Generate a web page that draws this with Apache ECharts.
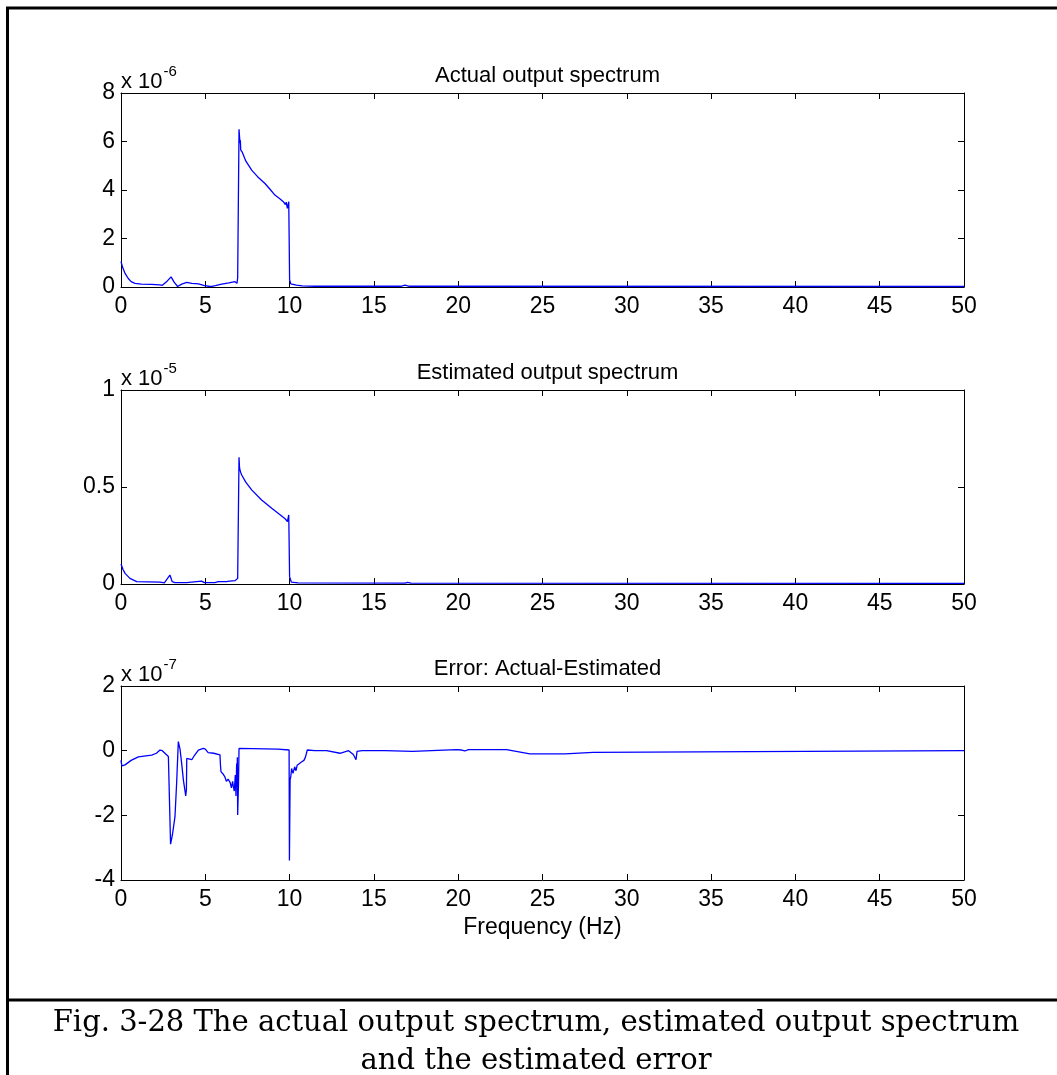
<!DOCTYPE html>
<html>
<head>
<meta charset="utf-8">
<script src="https://cdn.jsdelivr.net/npm/echarts@6/dist/echarts.min.js"></script>
<style>
  html, body { margin: 0; padding: 0; background: #fff; }
  #chart { width: 1057px; height: 1075px; }
</style>
</head>
<body>
<div id="chart"></div>
<script>
// Actual output spectrum, amplitude in units of 1e-6
const actualFreq = [0, 0.1, 0.25, 0.43, 0.6, 0.83, 1.2, 1.8, 2.3, 2.45, 2.75, 2.97, 3.15, 3.36, 3.6, 3.9, 4.2, 4.6, 4.95, 5.3, 5.6, 5.97, 6.4, 6.76, 6.85, 6.88, 6.92, 6.97,
  7.0, 7.03, 7.06, 7.08, 7.1, 7.2, 7.4, 7.75, 8.1, 8.54, 8.85, 9.13, 9.4, 9.63, 9.75, 9.8, 9.87, 9.92, 9.95, 9.98,
  10.0, 10.07, 10.4, 10.75, 11.5, 16.6, 16.85, 17.1, 50];
const actualAmp = [1.05, 0.8, 0.55, 0.35, 0.22, 0.15, 0.12, 0.11, 0.09, 0.07, 0.25, 0.42, 0.2, 0.02, 0.12, 0.19, 0.15, 0.13, 0.06, 0.02, 0.06, 0.12, 0.17, 0.22, 0.3, 0.15, 0.38, 0.3,
  6.5, 6.2, 5.93, 6.05, 5.65, 5.55, 5.2, 4.82, 4.55, 4.27, 4.02, 3.79, 3.65, 3.52, 3.4, 3.5, 3.24, 3.3, 3.52, 3.5,
  0.3, 0.13, 0.08, 0.05, 0.03, 0.03, 0.08, 0.03, 0.02];

// Estimated output spectrum, amplitude in units of 1e-5
const estFreq = [0, 0.12, 0.24, 0.53, 0.93, 2.31, 2.57, 2.9, 3.04, 3.2, 3.89, 3.95, 4.78, 4.94, 5.57, 5.77, 6.3, 6.76, 6.92, 6.97,
  7.0, 7.03, 7.06, 7.1, 7.16, 7.4, 7.75, 8.34, 8.94, 9.53, 9.75, 9.87, 9.92, 9.95, 9.98,
  10.0, 10.1, 10.5, 16.85, 17.0, 17.2, 50];
const estAmp = [0.103, 0.075, 0.055, 0.029, 0.012, 0.01, 0.006, 0.046, 0.012, 0.007, 0.007, 0.017, 0.015, 0.007, 0.007, 0.012, 0.013, 0.017, 0.029, 0.02,
  0.653, 0.6, 0.588, 0.575, 0.562, 0.525, 0.485, 0.433, 0.39, 0.35, 0.335, 0.321, 0.33, 0.356, 0.35,
  0.038, 0.01, 0.006, 0.005, 0.009, 0.004, 0.003];

// Error (actual - estimated), in units of 1e-7
const errFreq = [0, 0.05, 0.24, 0.6, 1.03, 1.82, 2.1, 2.31, 2.45, 2.81, 2.9, 2.94, 3.05, 3.2, 3.3, 3.4, 3.5, 3.6, 3.7, 3.84, 3.88, 3.9,
  4.2, 4.35, 4.59, 4.88, 5.0, 5.17, 5.5, 5.87, 5.9, 5.93, 6.05, 6.17, 6.25, 6.35, 6.47, 6.55, 6.62, 6.66, 6.72, 6.78, 6.82, 6.86, 6.88, 6.9, 6.92, 6.97,
  7.0, 9.3, 9.35, 9.97, 9.99, 10.03, 10.07, 10.12, 10.2, 10.3, 10.38, 10.45, 10.55, 10.7, 10.85, 10.94, 11.05,
  11.5, 12.2, 12.99, 13.5, 13.78, 13.94, 14.0, 14.3, 15.66, 15.7, 17.3, 17.35, 19.9, 20.0, 20.2, 20.4, 20.6, 22.87, 24.25, 26.33, 26.4, 28.0, 28.1, 50];
const errVal = [-0.3, -0.47, -0.44, -0.3, -0.19, -0.14, -0.08, 0.02, 0.0, -0.18, -0.2, -2.89, -2.6, -2.05, -1.0, 0.28, 0.05, -0.4, -0.91, -1.4, -1.2, -0.24,
  -0.28, -0.15, 0.02, 0.07, 0.05, -0.06, -0.08, -0.13, -0.45, -0.65, -0.72, -0.82, -0.95, -0.88, -0.98, -1.15, -0.95, -1.09, -1.25, -0.75, -1.4, -0.4, -1.1, -0.2, -1.99, -1.0,
  0.07, 0.05, 0.02, 0.02, -3.4, -0.9, -0.8, -0.55, -0.7, -0.5, -0.62, -0.45, -0.5, -0.35, -0.3, -0.2, 0.02,
  0.0, 0.0, -0.08, 0.0, -0.12, -0.28, -0.02, 0.0, 0.0, -0.02, -0.02, 0.03, 0.03, -0.02, 0.02, -0.01, 0.03, 0.03, -0.1, -0.1, -0.05, -0.05, 0.0, 0.0];

const panelTitles = ['Actual output spectrum', 'Estimated output spectrum', 'Error: Actual-Estimated'];
const exponents = ['-6', '-5', '-7'];
const yRanges = [[0, 8, 2], [0, 1, 0.5], [-4, 2, 2]];
const xRange = [0, 50, 5];
const xName = 'Frequency (Hz)';
const captionLines = ['Fig. 3-28 The actual output spectrum, estimated output spectrum', 'and the estimated error'];

const zip = (xs, ys) => xs.map((x, i) => [x, ys[i]]);
const seriesData = [zip(actualFreq, actualAmp), zip(estFreq, estAmp), zip(errFreq, errVal)];

const FONT = 'Liberation Sans, Arial, sans-serif';
const LEFT = 121, WIDTH = 843, HEIGHT = 194;
const tops = [93, 390, 686];

const grids = [], xAxes = [], yAxes = [], series = [], titles = [];
const axisLine = { show: true, onZero: false, lineStyle: { color: '#000', width: 1 } };
const tick = { show: true, inside: true, length: 6, lineStyle: { color: '#000', width: 1 } };

tops.forEach((top, i) => {
  grids.push({ left: LEFT, top: top, width: WIDTH, height: HEIGHT });
  const [ymin, ymax, yint] = yRanges[i];
  // bottom (labelled) and top (ticks only) x axes
  xAxes.push({
    type: 'value', gridIndex: i, position: 'bottom', min: xRange[0], max: xRange[1], interval: xRange[2],
    axisLine, axisTick: tick, splitLine: { show: false },
    axisLabel: { color: '#000', fontFamily: FONT, fontSize: 23, margin: 8 },
    name: i === 2 ? xName : '', nameLocation: 'middle', nameGap: 36,
    nameTextStyle: { color: '#000', fontFamily: FONT, fontSize: 23 }
  });
  xAxes.push({
    type: 'value', gridIndex: i, position: 'top', min: xRange[0], max: xRange[1], interval: xRange[2],
    axisLine, axisTick: tick, splitLine: { show: false }, axisLabel: { show: false }
  });
  // left (labelled) and right (ticks only) y axes
  yAxes.push({
    type: 'value', gridIndex: i, position: 'left', min: ymin, max: ymax, interval: yint,
    axisLine, axisTick: tick, splitLine: { show: false },
    axisLabel: { color: '#000', fontFamily: FONT, fontSize: 23, margin: 6 }
  });
  yAxes.push({
    type: 'value', gridIndex: i, position: 'right', min: ymin, max: ymax, interval: yint,
    axisLine, axisTick: tick, splitLine: { show: false }, axisLabel: { show: false }
  });
  series.push({
    type: 'line', xAxisIndex: 2 * i, yAxisIndex: 2 * i, data: seriesData[i],
    showSymbol: false, symbol: 'none', animation: false,
    lineStyle: { color: '#0000ff', width: 1.3 }
  });
  titles.push({
    text: panelTitles[i], left: LEFT + WIDTH / 2, top: top - 33, textAlign: 'center',
    textStyle: { color: '#000', fontFamily: FONT, fontSize: 22, fontWeight: 'normal' }
  });
  titles.push({
    text: '{b|x 10}{s|' + exponents[i] + '}', left: LEFT - 5, top: top - 37,
    textStyle: {
      fontWeight: 'normal',
      rich: {
        b: { color: '#000', fontFamily: FONT, fontSize: 22, fontWeight: 'normal', padding: [10, 0, 0, 0] },
        s: { color: '#000', fontFamily: FONT, fontSize: 15, fontWeight: 'normal', padding: [0, 0, 10, 1] }
      }
    }
  });
});

const chart = echarts.init(document.getElementById('chart'), null, { renderer: 'canvas' });
chart.setOption({
  backgroundColor: '#fff',
  animation: false,
  title: titles,
  grid: grids,
  xAxis: xAxes,
  yAxis: yAxes,
  series: series,
  graphic: [
    { type: 'line', shape: { x1: 6, y1: 8, x2: 1057, y2: 8 }, style: { stroke: '#000', lineWidth: 3 } },
    { type: 'line', shape: { x1: 7.5, y1: 7, x2: 7.5, y2: 1075 }, style: { stroke: '#000', lineWidth: 3 } },
    { type: 'line', shape: { x1: 7, y1: 1000, x2: 1057, y2: 1000 }, style: { stroke: '#000', lineWidth: 3 } },
    { type: 'text', x: 536, y: 1023, style: { text: captionLines[0], fill: '#000', font: '29px "DejaVu Serif"', textAlign: 'center', textVerticalAlign: 'middle' } },
    { type: 'text', x: 536, y: 1061, style: { text: captionLines[1], fill: '#000', font: '29px "DejaVu Serif"', textAlign: 'center', textVerticalAlign: 'middle' } }
  ]
});
</script>
</body>
</html>
